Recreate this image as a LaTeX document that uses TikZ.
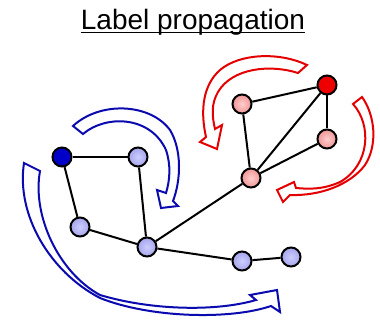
\documentclass[tikz,border=0pt]{standalone}
\usepackage{fontspec}
\setmainfont{Liberation Sans}
\definecolor{arrowblue}{RGB}{10,10,175}
\definecolor{arrowred}{RGB}{228,0,0}
\definecolor{deepblue}{RGB}{0,0,200}
\definecolor{paleblue}{RGB}{165,165,235}
\definecolor{paleblueC}{RGB}{205,205,255}
\definecolor{deepred}{RGB}{238,0,0}
\definecolor{pink}{RGB}{240,150,150}
\definecolor{pinkC}{RGB}{255,205,205}
\tikzset{
  vtx/.style={circle, minimum size=19pt, inner sep=0pt, draw=black, line width=2pt},
  seedblue/.style={vtx, fill=deepblue},
  seedred/.style={vtx, fill=deepred},
  lblue/.style={vtx, inner color=paleblueC, outer color=paleblue},
  lred/.style={vtx, inner color=pinkC, outer color=pink},
  link/.style={draw=black, line width=2pt},
  hollow/.style={draw=#1, fill=white, line width=2pt, line join=miter}
}
\begin{document}
\begin{tikzpicture}[x=1pt, y=-1pt]
\useasboundingbox (0,0) rectangle (380,323);

% title
\node[anchor=base, inner sep=0pt, font=\fontsize{28}{32}\selectfont] (title) at (193,29.5) {Label propagation};
\draw[line width=1.7pt] ([yshift=-3pt]title.base west) -- ([yshift=-3pt]title.base east);

% propagation arrows (blue community)
\draw[hollow=arrowblue] (73,126) -- (83,134)
  .. controls (105,115) and (150,115) .. (166,150)
  .. controls (171,165) and (170,180) .. (166,193)
  -- (157,190) -- (161,208) -- (178,206) -- (173,201)
  .. controls (181,180) and (182,150) .. (170,130)
  .. controls (150,103) and (100,101) .. (73,126) -- cycle;
\draw[hollow=arrowblue] (24,163) -- (40,171)
  .. controls (32,215) and (58,272) .. (100,295)
  .. controls (150,310) and (215,312) .. (256,300)
  -- (250,295) -- (277,290) -- (280,312) -- (271,306)
  .. controls (230,320) and (150,318) .. (100,298)
  .. controls (50,272) and (16,215) .. (24,163) -- cycle;

% propagation arrows (red community)
\draw[hollow=arrowred] (307,65) -- (298,73)
  .. controls (270,64) and (232,68) .. (218,92)
  .. controls (211,104) and (212,116) .. (215,129)
  -- (222,125) -- (217,149) -- (200,142) -- (206,137)
  .. controls (200,110) and (203,85) .. (220,70)
  .. controls (240,53) and (280,52) .. (307,65) -- cycle;
\draw[hollow=arrowred] (362,97) -- (353,104)
  .. controls (372,125) and (370,165) .. (340,182)
  .. controls (322,190) and (308,189) .. (296,188)
  -- (294,182) -- (277,190) -- (283,202) -- (290,195)
  .. controls (320,196) and (350,185) .. (365,165)
  .. controls (378,145) and (375,115) .. (362,97) -- cycle;

% vertices
\node[seedblue] (b1) at (62,157) {};
\node[lblue] (b2) at (138,157) {};
\node[lblue] (b3) at (80,227) {};
\node[lblue] (b4) at (147,247) {};
\node[lblue] (b5) at (242,261) {};
\node[lblue] (b6) at (291,257) {};
\node[seedred] (r1) at (327,85) {};
\node[lred] (r2) at (242,104) {};
\node[lred] (r3) at (327,139) {};
\node[lred] (r4) at (251,178) {};

% edges between vertices
\foreach \u/\v in {b1/b2, b1/b3, b2/b4, b3/b4, b4/b5, b5/b6, b4/r4, r4/r2, r4/r1, r4/r3, r2/r1, r1/r3}
  \draw[link] (\u) -- (\v);
\end{tikzpicture}
\end{document}
